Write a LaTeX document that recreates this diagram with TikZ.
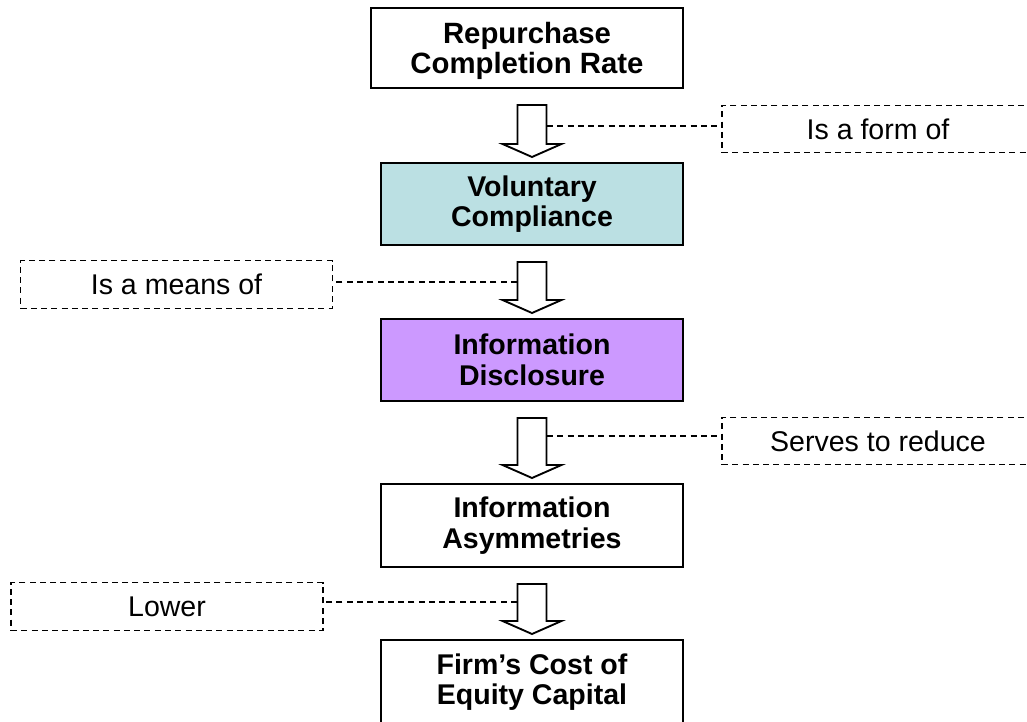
\documentclass[tikz,border=0pt]{standalone}
\usepackage{fontspec}
\setmainfont{Liberation Sans}
\usetikzlibrary{calc}

\definecolor{aquafill}{HTML}{BBE0E3}
\definecolor{lilacfill}{HTML}{CC99FF}

\tikzset{
  box/.style={draw=black, line width=1.5pt, align=center, inner sep=0pt,
    minimum width=226.5pt, minimum height=61.5pt,
    font=\bfseries\fontsize{21.4}{22.9}\selectfont},
  tag/.style={draw=black, line width=0.9pt, dash pattern=on 4.5pt off 3.2pt,
    minimum width=234pt, minimum height=35.6pt, inner sep=0pt,
    font=\fontsize{21.4}{23}\selectfont},
  link/.style={draw=black, line width=0.9pt, dash pattern=on 4.5pt off 3.2pt},
  blockarrow/.style={draw=black, line width=1.4pt, fill=white, line join=miter},
}

% hollow down-arrow between two stacked boxes
\newcommand\blockarrow[2]{%
  \draw[blockarrow] let \p1=(#1.south), \p2=(#2.north) in
    (\x2-10.9pt,\y1-12pt) -- (\x2+10.9pt,\y1-12pt) -- (\x2+10.9pt,\y2+13.5pt)
    -- (\x2+22.1pt,\y2+13.5pt) -- (\x2,\y2+3.75pt) -- (\x2-22.1pt,\y2+13.5pt)
    -- (\x2-10.9pt,\y2+13.5pt) -- cycle;}

\begin{document}
\begin{tikzpicture}[x=0.75pt, y=-0.75pt]
\useasboundingbox (0,0) rectangle (1027,721);
\clip (0,0) rectangle (1027,721);

% chain of concepts
\node[box, minimum width=234pt, minimum height=60pt,
      font=\bfseries\fontsize{22}{22.9}\selectfont] (b1) at (527,48)
      {\rule{0pt}{20.5pt}Repurchase\\Completion Rate};
\node[box, fill=aquafill]  (b2) at (532,204)   {Voluntary\\Compliance};
\node[box, fill=lilacfill] (b3) at (532,360)   {Information\\Disclosure};
\node[box, minimum height=62.25pt] (b4) at (532,525.5) {Information\\Asymmetries};
\node[box, minimum height=63pt] (b5) at (532,682) {Firm’s Cost of\\Equity Capital};

% relation labels
\node[tag] (l1) at (878,129)   {Is a form of};
\node[tag] (l2) at (176.5,284.5) {Is a means of};
\node[tag] (l3) at (878,441)   {Serves to reduce};
\node[tag] (l4) at (167,606.5) {Lower};

% arrows between the boxes
\blockarrow{b1}{b2}
\blockarrow{b2}{b3}
\blockarrow{b3}{b4}
\blockarrow{b4}{b5}

% dashed leaders from the arrows to their labels
\coordinate (j1) at (547,126);
\coordinate (j2) at (517,282);
\coordinate (j3) at (547,436);
\coordinate (j4) at (517,602);
\draw[link] (j1) -- (j1 -| l1.west);
\draw[link] (j2) -- (j2 -| l2.east);
\draw[link] (j3) -- (j3 -| l3.west);
\draw[link] (j4) -- (j4 -| l4.east);
\end{tikzpicture}
\end{document}
